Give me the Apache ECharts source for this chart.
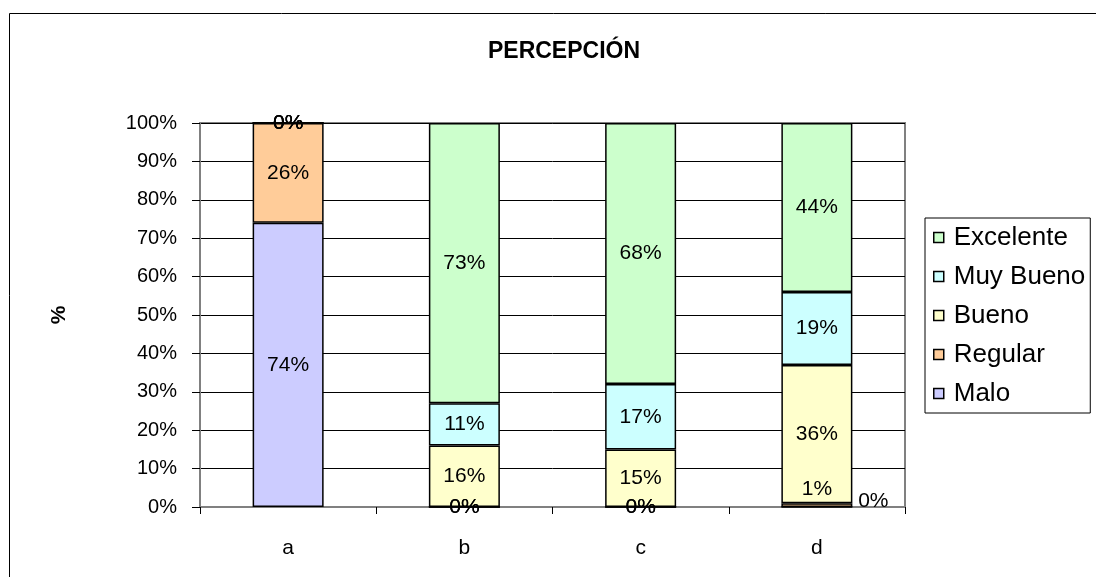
<!DOCTYPE html>
<html>
<head>
<meta charset="utf-8">
<script src="https://cdn.jsdelivr.net/npm/echarts@6/dist/echarts.min.js"></script>
<style>
  html, body { margin: 0; padding: 0; background: #fff; }
  #chart { width: 1096px; height: 577px; }
</style>
</head>
<body>
<div id="chart"></div>
<script>
// categorias y porcentajes por nivel
const categories = ["a", "b", "c", "d"];
const malo = [74, 0, 0, 0];
const regular = [26, 0, 0, 1];
const bueno = [0, 16, 15, 36];
const muyBueno = [0, 11, 17, 19];
const excelente = [0, 73, 68, 44];

const seriesDefs = [
  { name: "Malo", data: malo, color: "#CCCCFF" },
  { name: "Regular", data: regular, color: "#FFCC99" },
  { name: "Bueno", data: bueno, color: "#FFFFCC" },
  { name: "Muy Bueno", data: muyBueno, color: "#CCFFFF" },
  { name: "Excelente", data: excelente, color: "#CCFFCC" },
];

const font = "Liberation Sans, Arial, sans-serif";

const myChart = echarts.init(document.getElementById("chart"));

const series = seriesDefs.map((s) => ({
  name: s.name,
  type: "bar",
  stack: "total",
  barWidth: 71,
  itemStyle: { color: s.color, borderColor: "#000", borderWidth: 1.5 },
  label: {
    show: true,
    position: "inside",
    color: "#000",
    fontFamily: font,
    fontSize: 21,
    formatter: (p) => p.value + "%",
  },
  data: s.data.map((v, i) => {
    // las etiquetas del ultimo grupo estan desplazadas en el original
    if (i === 3 && s.name === "Malo") {
      return { value: v, label: { position: "right", offset: [0, -6] } };
    }
    if (i === 3 && s.name === "Regular") {
      return { value: v, label: { offset: [0, -16] } };
    }
    return v;
  }),
}));

const options = {
  backgroundColor: "#fff",
  animation: false,
  title: {
    text: "PERCEPCIÓN",
    left: 559,
    top: 35,
    textAlign: "center",
    textStyle: { fontFamily: font, fontSize: 23, fontWeight: "bold", color: "#000" },
  },
  graphic: [
    {
      type: "rect",
      shape: { x: 9.5, y: 13.5, width: 1100, height: 600 },
      style: { fill: "none", stroke: "#000", lineWidth: 1 },
      silent: true,
    },
  ],
  legend: {
    orient: "vertical",
    left: 925,
    top: 218,
    data: seriesDefs.map((s) => s.name).reverse(),
    icon: "rect",
    itemWidth: 10,
    itemHeight: 10,
    itemGap: 10,
    padding: [5, 5, 5, 8],
    borderColor: "#000",
    borderWidth: 1,
    itemStyle: { borderColor: "#000", borderWidth: 1.5 },
    textStyle: {
      fontFamily: font,
      fontSize: 26,
      lineHeight: 29,
      color: "#000",
      padding: [0, 0, 0, 5],
    },
  },
  grid: {
    left: 200,
    right: 191,
    top: 123,
    bottom: 70,
    show: true,
    borderColor: "#808080",
    borderWidth: 2,
  },
  xAxis: {
    type: "category",
    data: categories,
    axisLine: { lineStyle: { color: "#808080", width: 2 } },
    axisTick: { show: true, length: 7, lineStyle: { color: "#000" } },
    axisLabel: { fontFamily: font, fontSize: 21, color: "#000", margin: 31 },
  },
  yAxis: {
    type: "value",
    min: 0,
    max: 100,
    interval: 10,
    name: "%",
    nameLocation: "middle",
    nameGap: 130,
    nameTextStyle: { fontFamily: font, fontSize: 21, fontWeight: "bold", color: "#000" },
    axisLine: { show: true, lineStyle: { color: "#808080", width: 2 } },
    axisTick: { show: true, length: 8, lineStyle: { color: "#000" } },
    axisLabel: {
      fontFamily: font,
      fontSize: 20,
      color: "#000",
      margin: 23,
      formatter: (v) => v + "%",
    },
    splitLine: { show: true, lineStyle: { color: "#000", width: 1 } },
  },
  series: series,
};

options && myChart.setOption(options);
</script>
</body>
</html>
